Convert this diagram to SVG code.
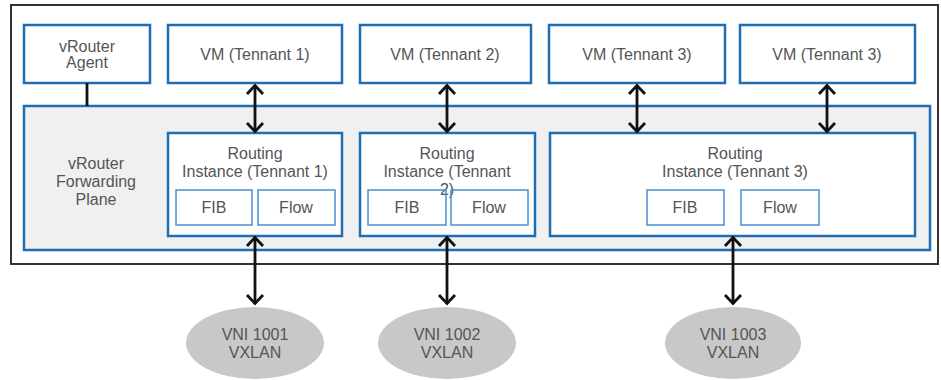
<svg xmlns="http://www.w3.org/2000/svg" width="941" height="380" viewBox="0 0 941 380">
<defs>
<style>
.box{fill:#fff;stroke:#1f6db5;stroke-width:2.5}
.sub{fill:#fff;stroke:#4a8fd0;stroke-width:1.5}
.t{font-family:"Liberation Sans",Arial,sans-serif;font-size:16px;fill:#555;text-anchor:middle}
.c{stroke:#111;stroke-width:2.8;fill:none}
.vni{fill:#c8c8c8}
</style>
<marker id="ah" viewBox="0 0 14 20" refX="12" refY="10" markerWidth="14" markerHeight="20" orient="auto-start-reverse" markerUnits="userSpaceOnUse">
<path d="M3,2 L11.5,10 L3,18" fill="none" stroke="#111" stroke-width="2.8"/>
</marker>
</defs>
<rect width="941" height="380" fill="#fff"/>
<rect id="host" x="11" y="5" width="927" height="259" fill="#fff" stroke="#333" stroke-width="2"/>
<g id="forwarding-plane">
<rect x="24" y="106" width="906" height="144" fill="#f0f0f0" stroke="#1f6db5" stroke-width="2.5"/>
<text class="t" x="96" y="169">vRouter</text>
<text class="t" x="96" y="187">Forwarding</text>
<text class="t" x="96" y="205">Plane</text>
</g>
<g id="agent"><rect class="box" x="24" y="25" width="126" height="58"/>
<text class="t" x="87" y="52">vRouter</text><text class="t" x="87" y="68">Agent</text></g>
<g id="vm1"><rect class="box" x="168" y="25" width="174" height="58"/><text class="t" x="255" y="60">VM (Tennant 1)</text></g>
<g id="vm2"><rect class="box" x="360" y="25" width="171" height="58"/><text class="t" x="445" y="60">VM (Tennant 2)</text></g>
<g id="vm3a"><rect class="box" x="549" y="25" width="176" height="58"/><text class="t" x="637" y="60">VM (Tennant 3)</text></g>
<g id="vm3b"><rect class="box" x="740" y="25" width="175" height="58"/><text class="t" x="827" y="60">VM (Tennant 3)</text></g>
<g id="ri1"><rect class="box" x="168" y="133" width="174" height="103"/>
<text class="t" x="255" y="159">Routing</text><text class="t" x="255" y="177">Instance (Tennant 1)</text>
<rect class="sub" x="176" y="190" width="76" height="35"/><text class="t" x="214" y="213">FIB</text>
<rect class="sub" x="258" y="190" width="77" height="35"/><text class="t" x="296" y="213">Flow</text></g>
<g id="ri2"><rect class="box" x="360" y="133" width="175" height="103"/>
<text class="t" x="447" y="159">Routing</text><text class="t" x="447" y="177">Instance (Tennant</text><text class="t" x="447" y="195">2)</text>
<rect class="sub" x="368" y="190" width="78" height="35" fill-opacity="0"/><text class="t" x="407" y="213">FIB</text>
<rect class="sub" x="451" y="190" width="77" height="35" fill-opacity="0"/><text class="t" x="489" y="213">Flow</text></g>
<g id="ri3"><rect class="box" x="550" y="133" width="365" height="103"/>
<text class="t" x="735" y="159">Routing</text><text class="t" x="735" y="177">Instance (Tennant 3)</text>
<rect class="sub" x="647" y="190" width="77" height="35"/><text class="t" x="685" y="213">FIB</text>
<rect class="sub" x="741" y="190" width="78" height="35"/><text class="t" x="780" y="213">Flow</text></g>
<g id="vni1"><ellipse class="vni" cx="255" cy="343" rx="69" ry="36"/><text class="t" x="255" y="340">VNI 1001</text><text class="t" x="255" y="358">VXLAN</text></g>
<g id="vni2"><ellipse class="vni" cx="447" cy="343" rx="69" ry="36"/><text class="t" x="447" y="340">VNI 1002</text><text class="t" x="447" y="358">VXLAN</text></g>
<g id="vni3"><ellipse class="vni" cx="733" cy="343" rx="68" ry="36"/><text class="t" x="733" y="340">VNI 1003</text><text class="t" x="733" y="358">VXLAN</text></g>
<g id="connectors">
<line class="c" x1="87" y1="83" x2="87" y2="106"/>
<line class="c" x1="255" y1="85" x2="255" y2="132" marker-start="url(#ah)" marker-end="url(#ah)"/>
<line class="c" x1="447" y1="85" x2="447" y2="132" marker-start="url(#ah)" marker-end="url(#ah)"/>
<line class="c" x1="637" y1="85" x2="637" y2="132" marker-start="url(#ah)" marker-end="url(#ah)"/>
<line class="c" x1="827" y1="85" x2="827" y2="132" marker-start="url(#ah)" marker-end="url(#ah)"/>
<line class="c" x1="255" y1="237" x2="255" y2="304" marker-start="url(#ah)" marker-end="url(#ah)"/>
<line class="c" x1="447" y1="237" x2="447" y2="304" marker-start="url(#ah)" marker-end="url(#ah)"/>
<line class="c" x1="733" y1="237" x2="733" y2="304" marker-start="url(#ah)" marker-end="url(#ah)"/>
</g>
</svg>
